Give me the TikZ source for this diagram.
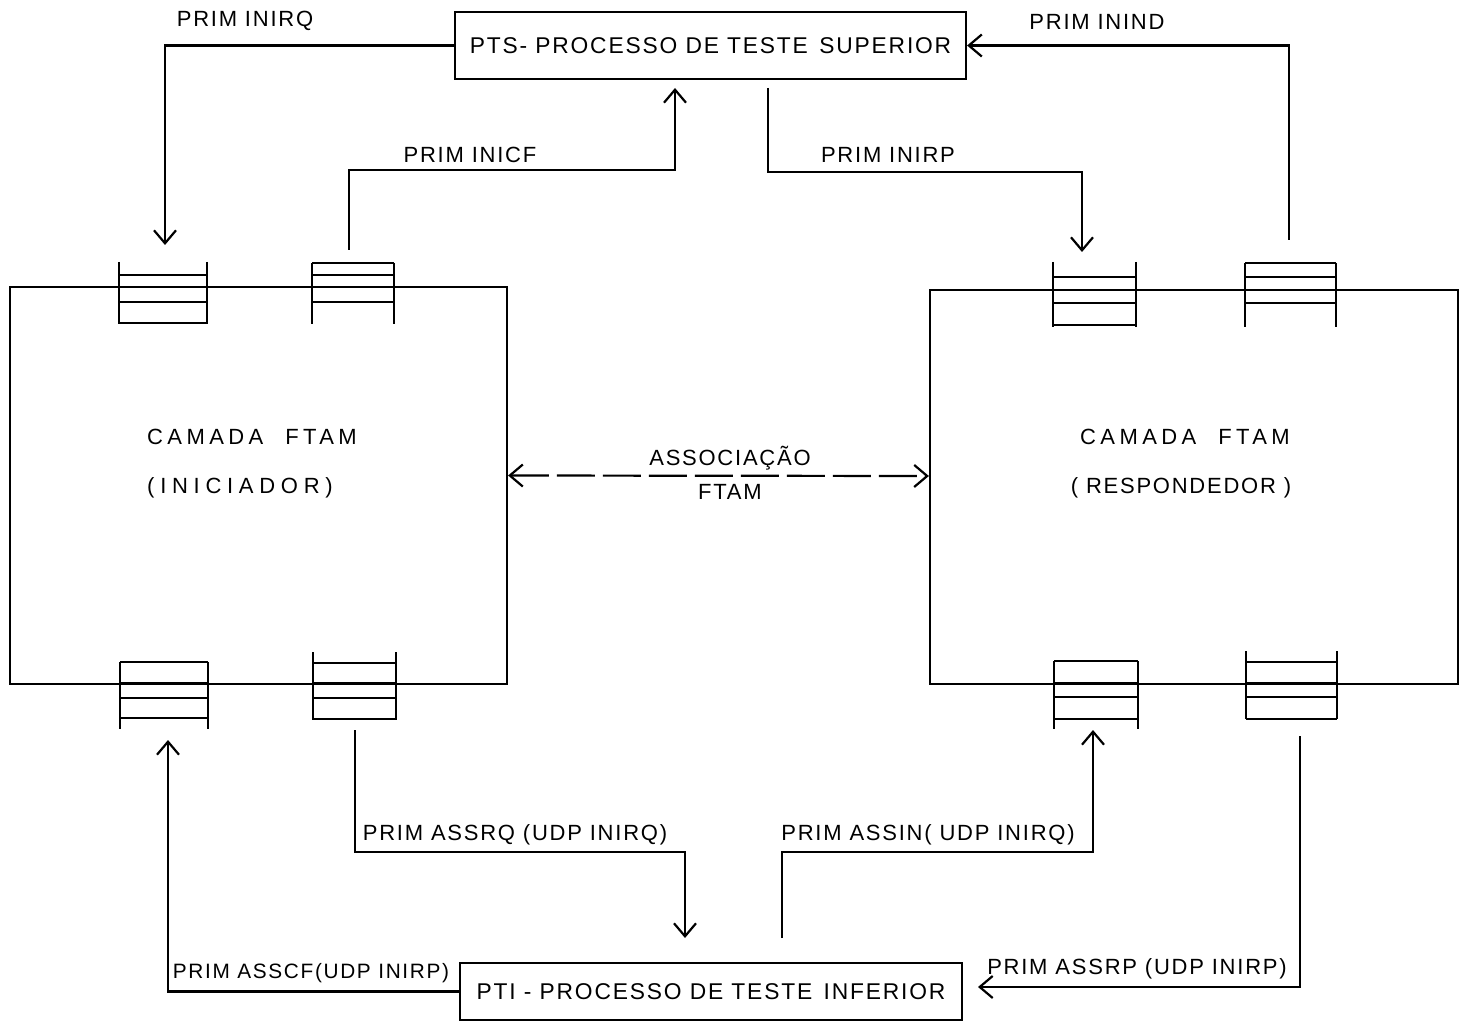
\documentclass[tikz,border=0pt]{standalone}
\usepackage{fontspec}
\setmainfont{Liberation Sans}
\newfontfamily\letreiro[LetterSpace=8]{Liberation Sans}
\newfontfamily\largo[LetterSpace=20]{Liberation Sans}
\newfontfamily\largoB[LetterSpace=26]{Liberation Sans}
\usetikzlibrary{arrows.meta}

% fila: x esq, x dir, traco vertical de/ate, linhas horizontais
\newcommand{\fila}[5]{%
  \draw (#1,#3) -- (#1,#4) (#2,#3) -- (#2,#4);
  \foreach \yy in {#5} \draw (#1,\yy) -- (#2,\yy);}

\tikzset{
  seta/.style={-{Straight Barb[length=6.5pt,width=11pt]}},
  caixa/.style={draw,inner sep=0pt,font=\letreiro\fontsize{11.4}{14}\selectfont},
  rotulo/.style={font=\letreiro\fontsize{11}{13}\selectfont,inner sep=1pt},
  camada/.style={font=\largo\fontsize{11}{13}\selectfont,inner sep=1pt},
}

\begin{document}
\begin{tikzpicture}[x=0.5pt,y=-0.5pt,line width=1.1pt]
\useasboundingbox (0,0) rectangle (1464,1022);
% camadas FTAM
\node[draw,minimum width=248.5pt,minimum height=198.5pt] (ini) at (258.5,485.5) {};
\node[draw,minimum width=264pt,minimum height=197pt] (resp) at (1194,487) {};
\node[camada] (ini1) at (252,437) {CAMADA\quad FTAM};
\node[camada,font=\largoB\fontsize{11}{13}\selectfont] (ini2) at (240,488) {(INICIADOR)};
\node[camada] (resp1) at (1185,437) {CAMADA\quad FTAM};
\node[rotulo] (resp2) at (1181,488) {( RESPONDEDOR )};
% processos de teste
\node[caixa,minimum width=255.5pt,minimum height=33.5pt] (pts) at (710.5,45.5) {PTS- PROCESSO DE TESTE\enspace SUPERIOR};
\node[caixa,minimum width=251pt,minimum height=28.5pt] (pti) at (711,991.5) {PTI - PROCESSO DE TESTE\enspace INFERIOR};
% filas
\fila{119}{207}{262}{324}{275,287,302,323}
\fila{312}{394}{263}{324}{263,275,287,302}
\fila{1053}{1136}{262}{327}{277,290,303,325}
\fila{1245}{1336}{263}{327}{263,277,290,303}
\fila{120}{208}{662}{729}{662,683,698,718}
\fila{313}{396}{652}{720}{663,683,698,719}
\fila{1054}{1138}{661}{729}{661,683,697,719}
\fila{1246}{1337}{651}{719}{662,683,697,719}
% pontas das ligacoes
\coordinate (fA) at (165,245);
\coordinate (fB) at (349,250);
\coordinate (fC) at (1082,252);
\coordinate (fD) at (1289,240);
\coordinate (fE) at (168,740);
\coordinate (fF) at (355,730);
\coordinate (fG) at (1093,730);
\coordinate (fH) at (1300,736);
\coordinate (ptsA) at (675,88);
\coordinate (ptsB) at (768,88);
\coordinate (ptiA) at (685,938);
\coordinate (ptiB) at (782,938);
\coordinate (ptiC) at (978,987);
% primitivas
\draw[seta] (pts.west) -| (fA);
\draw[seta] (fB) -- ++(0,-80) -| (ptsA);
\draw[seta] (ptsB) -- ++(0,84) -| (fC);
\draw[seta] (fD) |- (pts.east);
\draw[seta] (fF) -- ++(0,122) -| (ptiA);
\draw[seta] (ptiB) -- ++(0,-86) -| (fG);
\draw[seta] (pti.west) -| (fE);
\draw[seta] (fH) |- (ptiC);
\node[rotulo] (l1) at (245,21) {PRIM INIRQ};
\node[rotulo] (l2) at (470,155) {PRIM INICF};
\node[rotulo] (l3) at (888,155) {PRIM INIRP};
\node[rotulo] (l4) at (1097,22) {PRIM ININD};
\node[rotulo] (l5) at (515,835) {PRIM ASSRQ (UDP INIRQ)};
\node[rotulo] (l6) at (928,835) {PRIM ASSIN( UDP INIRQ)};
\node[rotulo,font=\letreiro\fontsize{10.4}{13}\selectfont] (l7) at (311,973) {PRIM ASSCF(UDP INIRP)};
\node[rotulo] (l8) at (1137,969) {PRIM ASSRP (UDP INIRP)};
% associacao
\draw[{Straight Barb[length=6.5pt,width=11pt]}-{Straight Barb[length=6.5pt,width=11pt]},dash pattern=on 19pt off 4pt]
  ([yshift=5pt]ini.east) -- ([yshift=5.5pt]resp.west);
\node[rotulo] (as1) at (730,458) {ASSOCIAÇÃO};
\node[rotulo] (as2) at (730,492) {FTAM};
\end{tikzpicture}
\end{document}
